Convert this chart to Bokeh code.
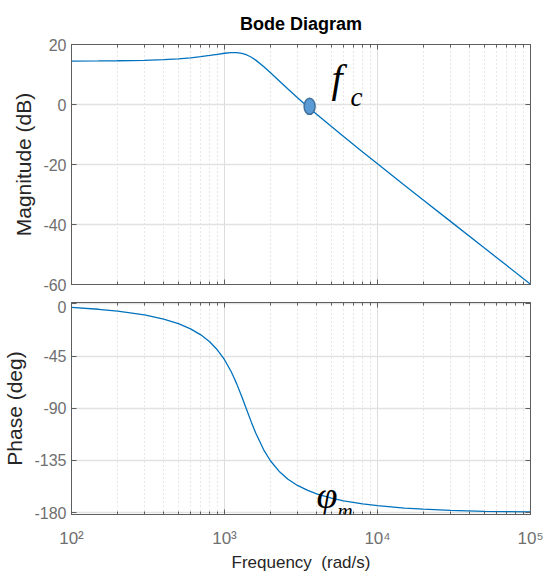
from bokeh.plotting import figure
from bokeh.layouts import column
from bokeh.models import (FixedTicker, LogAxis, LinearAxis, Range1d, Label,
                          CustomJSTickFormatter)
from bokeh.embed import file_html
from bokeh.resources import INLINE

# ---------------- data ----------------
freq = [100, 150, 200, 300, 400, 500, 600, 700, 800, 900, 1000, 1100, 1150, 1200,
        1300, 1400, 1500, 1600, 1800, 2000, 2300, 2600, 3000, 3500, 4000, 5000,
        6000, 8000, 10000, 15000, 20000, 30000, 50000, 70000, 100000]
mag_db = [14.48, 14.52, 14.58, 14.73, 14.95, 15.23, 15.56, 15.94, 16.34, 16.74,
          17.08, 17.29, 17.32, 17.30, 17.05, 16.51, 15.74, 14.79, 12.68, 10.56,
          7.67, 5.15, 2.28, -0.72, -3.26, -7.37, -10.68, -15.83, -19.77, -26.88,
          -31.90, -38.96, -47.85, -53.69, -59.89]
phase_deg = [-3.07, -4.64, -6.23, -9.55, -13.13, -17.08, -21.54, -26.67, -32.68,
             -39.77, -48.14, -57.86, -63.19, -68.75, -80.28, -91.67, -102.18,
             -111.37, -125.62, -135.44, -145.04, -151.17, -156.53, -160.85,
             -163.77, -167.48, -169.77, -172.48, -174.03, -176.06, -177.05,
             -178.04, -178.83, -179.16, -179.41]

fc_freq = [3600]
fc_mag = [-0.6]

x_ticks = [100, 1000, 10000, 100000]
x_minor = [200, 300, 400, 500, 600, 700, 800, 900,
           2000, 3000, 4000, 5000, 6000, 7000, 8000, 9000,
           20000, 30000, 40000, 50000, 60000, 70000, 80000, 90000]
mag_ticks = [-60, -40, -20, 0, 20]
phase_ticks = [-180, -135, -90, -45, 0]

title_text = "Bode Diagram"
mag_label = "Magnitude (dB)"
phase_label = "Phase (deg)"
freq_label = "Frequency\u00a0\u00a0(rad/s)"

# ---------------- styles ----------------
SANS = "Liberation Sans"
SERIF = "Liberation Serif"
TICK_COLOR = "#6f6f6f"
LABEL_COLOR = "#262626"
FRAME_COLOR = "#5e5e5e"
LINE_COLOR = "#0072BD"

sup = CustomJSTickFormatter(code="""
const s = {'2':'\u00b2','3':'\u00b3','4':'\u2074','5':'\u2075'};
const e = String(Math.round(Math.log10(tick)));
return '10' + (s[e] || e);
""")
plain = CustomJSTickFormatter(code="return String(Math.round(tick));")


def hide_labels(ax):
    ax.major_label_text_font_size = "1px"
    ax.major_label_text_alpha = 0
    ax.major_label_standoff = 0


def style_axis(ax, minor=False):
    ax.axis_line_color = FRAME_COLOR
    ax.major_tick_line_color = FRAME_COLOR
    ax.major_tick_in = 5
    ax.major_tick_out = 0
    if minor:
        ax.minor_tick_line_color = FRAME_COLOR
        ax.minor_tick_in = 3
        ax.minor_tick_out = 0
    else:
        ax.minor_tick_line_color = None


def make_fig(height, yr, yticks, top, bottom):
    p = figure(width=543, height=height, x_axis_type="log",
               x_range=Range1d(100, 100000), y_range=Range1d(*yr),
               output_backend="svg", toolbar_location=None,
               min_border_left=64, min_border_right=13,
               min_border_top=top, min_border_bottom=bottom)
    p.background_fill_color = "white"
    p.border_fill_color = "white"
    p.outline_line_color = FRAME_COLOR
    p.outline_line_width = 1

    xt = FixedTicker(ticks=x_ticks, minor_ticks=x_minor)
    yt = FixedTicker(ticks=yticks)

    xa = p.xaxis[0]
    xa.ticker = xt
    xa.formatter = sup
    style_axis(xa, minor=True)
    ya = p.yaxis[0]
    ya.ticker = yt
    ya.formatter = plain
    style_axis(ya)
    ya.major_label_text_font = SANS
    ya.major_label_text_font_size = "16px"
    ya.major_label_text_color = TICK_COLOR
    ya.major_label_standoff = 5
    ya.axis_label_text_font = SANS
    ya.axis_label_text_font_size = "21px"
    ya.axis_label_text_font_style = "normal"
    ya.axis_label_text_color = LABEL_COLOR
    ya.axis_label_standoff = 5

    ta = LogAxis(ticker=xt)
    hide_labels(ta)
    style_axis(ta, minor=True)
    p.add_layout(ta, "above")
    ra = LinearAxis(ticker=yt)
    hide_labels(ra)
    style_axis(ra)
    p.add_layout(ra, "right")

    p.xgrid.ticker = xt
    p.ygrid.ticker = yt
    p.xgrid.grid_line_color = "#dcdcdc"
    p.xgrid.grid_line_width = 1
    p.xgrid.minor_grid_line_color = "#cfcfcf"
    p.xgrid.minor_grid_line_dash = "1 3"
    p.xgrid.minor_grid_line_width = 1
    p.ygrid.grid_line_color = "#e2e2e2"
    p.ygrid.grid_line_width = 1.5
    return p, xa, ya


# ---------------- magnitude ----------------
p1, x1, y1 = make_fig(300, (-60, 20), mag_ticks, 43, 16)
p1.title.text = title_text
p1.title.align = "center"
p1.title.text_font = SANS
p1.title.text_font_size = "18px"
p1.title.text_font_style = "bold"
p1.title.text_color = "#000000"
p1.title.standoff = 22
hide_labels(x1)
y1.axis_label = mag_label

p1.line(freq, mag_db, line_color=LINE_COLOR, line_width=1.3)
p1.ellipse(x=fc_freq, y=fc_mag, width=11, height=16,
           width_units="screen", height_units="screen",
           fill_color="#5B9BD5", line_color="#41719C", line_width=1.5)
p1.add_layout(Label(x=5000, y=8.6, text="f", text_font=SERIF,
                    text_font_style="italic", text_font_size="40px",
                    text_color="#000000", text_baseline="alphabetic",
                    text_align="left"))
p1.add_layout(Label(x=6650, y=2.6, text="c", text_font=SERIF,
                    text_font_style="italic", text_font_size="27px",
                    text_color="#000000", text_baseline="alphabetic",
                    text_align="left"))

# ---------------- phase ----------------
p2, x2, y2 = make_fig(280, (-181.6, 1.2), phase_ticks, 2, 66)
y2.axis_label = phase_label
x2.major_label_text_font = SANS
x2.major_label_text_font_size = "17px"
x2.major_label_text_color = TICK_COLOR
x2.major_label_standoff = 14
x2.axis_label = freq_label
x2.axis_label_text_font = SANS
x2.axis_label_text_font_size = "17px"
x2.axis_label_text_font_style = "normal"
x2.axis_label_text_color = LABEL_COLOR
x2.axis_label_standoff = 2

p2.line(freq, phase_deg, line_color=LINE_COLOR, line_width=1.3)
p2.add_layout(Label(x=4000, y=-164.5, text="\u03c6", text_font=SERIF,
                    text_font_style="italic", text_font_size="38px",
                    text_color="#000000", text_baseline="alphabetic",
                    text_align="left"))
p2.add_layout(Label(x=5480, y=-178.6, text="m", text_font=SERIF,
                    text_font_style="italic", text_font_size="21px",
                    text_color="#000000", text_baseline="alphabetic",
                    text_align="left"))

layout = column(p1, p2, spacing=0)
open("out.html", "w").write(file_html(layout, INLINE))
